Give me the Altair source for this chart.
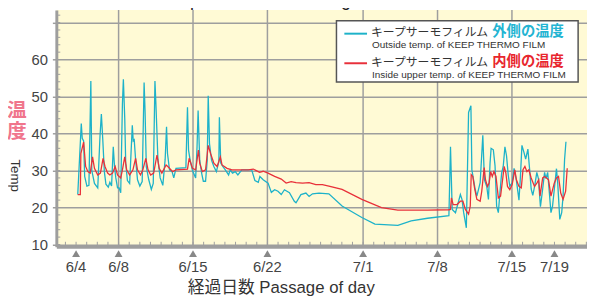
import altair as alt
import pandas as pd

# ---- data (day 0 = 6/4) ----
out_day = [0.16, 0.49, 0.58, 0.71, 0.81, 1.02, 1.21, 1.39, 1.48, 1.73, 2.04, 2.25, 2.38, 2.51, 2.66, 2.81,
           3.03, 3.18, 3.34, 3.50, 3.62, 3.74, 3.90, 4.05, 4.20, 4.36, 4.45, 4.58, 4.67, 4.83, 5.04, 5.29,
           5.38, 5.47, 5.60, 5.78, 6.00, 6.22, 6.40, 6.49, 6.61, 6.84, 7.08, 7.26, 7.42, 7.51, 7.70, 7.91,
           8.16, 8.38, 8.51, 8.60, 8.79, 9.03, 9.19, 9.40, 10.33, 10.48, 10.58, 10.73, 10.95, 11.25, 11.38,
           11.48, 11.63, 11.81, 11.97, 12.18, 12.34, 12.43, 12.55, 12.74, 12.96, 13.20, 13.43, 13.48, 13.61,
           13.80, 14.04, 14.35, 14.50, 14.72, 14.97, 15.22, 15.59, 16.05, 16.52, 16.82, 17.14, 17.29, 17.60,
           18.06, 18.37, 18.68, 18.99, 19.30, 19.60, 20.07, 20.53, 20.69, 21.15, 21.62, 21.92, 22.24, 22.85,
           23.78, 25.02, 26.88, 28.11, 30.27, 31.52, 33.06, 35.07, 35.22, 35.38, 35.69, 36.15, 36.30, 36.46,
           36.71, 36.92, 37.14, 37.23, 37.39, 37.55, 37.70, 38.01, 38.26, 38.41, 38.63, 38.79, 38.94, 39.04,
           39.25, 39.41, 39.56, 39.72, 39.87, 40.03, 40.18, 40.34, 40.49, 40.65, 40.80, 41.02, 41.20, 41.41,
           41.66, 41.79, 41.94, 42.13, 42.29, 42.50, 42.66, 42.81, 42.96, 43.15, 43.34, 43.49, 43.68, 43.89,
           44.07, 44.20, 44.36, 44.51, 44.67, 44.82, 45.07, 45.19, 45.31, 45.50, 45.68, 45.81, 45.95, 46.08]
out_temp = [23.5, 42.7, 38.7, 38.0, 28.4, 25.8, 26.0, 54.2, 30.0, 26.5, 25.3, 39.2, 45.3, 38.5, 29.7, 26.3,
            25.5, 26.8, 25.8, 36.4, 31.0, 28.0, 25.3, 25.3, 24.0, 48.0, 54.7, 44.0, 32.0, 27.3, 26.5, 42.2,
            38.0, 38.3, 33.0, 27.5, 25.8, 27.0, 53.8, 46.0, 31.0, 27.5, 24.9, 26.5, 54.2, 48.0, 33.0, 28.0,
            26.0, 33.0, 41.8, 34.6, 30.2, 29.7, 28.0, 30.6, 30.8, 47.1, 35.5, 32.8, 30.0, 28.0, 36.4,
            46.2, 32.8, 29.3, 27.1, 27.1, 32.8, 50.2, 37.3, 32.8, 31.1, 29.7, 32.4, 44.4, 32.0,
            31.1, 30.2, 28.8, 30.2, 29.3, 29.7, 28.8, 30.2, 30.2, 30.2, 27.3, 26.8, 28.4, 27.5,
            26.6, 24.1, 24.8, 24.4, 23.5, 24.8, 24.0, 21.7, 21.3, 23.5, 23.9, 23.0, 23.7, 23.9,
            23.7, 20.4, 17.3, 15.5, 15.2, 16.4, 17.1, 17.8, 36.4, 19.5, 18.6, 23.5, 22.2, 18.6,
            14.5, 45.7, 47.5, 30.2, 27.5, 24.8, 23.1, 26.7, 39.5, 27.5, 25.7, 22.2, 32.0, 36.0,
            35.6, 31.3, 20.4, 18.6, 24.0, 29.3, 31.1, 36.4, 34.0, 28.8, 25.7, 26.7, 30.6, 27.5,
            22.0, 28.0, 36.8, 34.9, 33.1, 35.8, 30.4, 25.0, 23.3, 26.0, 29.5, 27.8, 20.2, 25.0,
            29.5, 27.8, 29.5, 24.3, 18.6, 20.4, 27.3, 30.5, 26.4, 16.8, 18.6, 23.1, 32.9, 37.8]

in_day = [0.16, 0.40, 0.45, 0.71, 0.90, 1.11, 1.33, 1.55, 1.73, 2.04, 2.29, 2.54, 2.72, 2.97, 3.18, 3.43,
          3.68, 3.90, 4.20, 4.36, 4.58, 4.76, 5.04, 5.35, 5.60, 5.78, 6.06, 6.28, 6.56, 6.77, 7.02, 7.30,
          7.61, 7.82, 8.07, 8.47, 8.63, 9.09, 9.40, 10.48, 10.64, 10.95, 11.25, 11.51, 11.63, 11.88, 12.18,
          12.43, 12.65, 12.96, 13.27, 13.57, 13.73, 14.20, 14.66, 15.28, 16.21, 16.67, 17.14, 17.26, 17.60,
          18.06, 18.68, 19.30, 19.76, 20.23, 20.69, 21.31, 21.92, 22.55, 23.17, 23.78, 25.02, 26.88, 28.73,
          30.27, 33.06, 35.07, 35.22, 35.31, 35.47, 35.84, 36.15, 36.39, 36.62, 36.92, 37.08, 37.17, 37.32,
          37.48, 37.70, 38.01, 38.16, 38.39, 38.51, 38.70, 38.85, 39.00, 39.15, 39.31, 39.50, 39.72, 39.93,
          40.12, 40.27, 40.43, 40.58, 40.80, 41.02, 41.27, 41.42, 41.66, 41.88, 42.04, 42.22, 42.41, 42.59,
          42.81, 43.12, 43.34, 43.52, 43.64, 43.89, 44.07, 44.26, 44.44, 44.67, 44.98, 45.19, 45.38, 45.59,
          45.81, 46.05, 46.20]
in_temp = [23.5, 23.5, 34.6, 37.7, 31.1, 29.7, 29.3, 33.7, 30.6, 28.8, 29.3, 33.3, 31.1, 29.3, 28.8, 29.3,
           31.1, 28.8, 28.0, 30.2, 33.7, 30.2, 28.8, 30.2, 33.3, 30.2, 28.8, 30.2, 33.3, 30.2, 28.8, 29.3,
           34.2, 30.6, 29.3, 31.5, 31.1, 29.7, 30.2, 30.4, 33.3, 30.6, 30.2, 35.5, 32.0, 29.7, 30.2,
           36.8, 34.6, 32.0, 31.1, 33.7, 31.5, 30.6, 30.2, 30.2, 30.2, 30.4, 29.7, 29.5, 29.8,
           29.3, 28.4, 27.7, 26.6, 27.0, 26.7, 26.6, 26.7, 26.2, 26.2, 25.8, 24.9, 22.2, 20.0,
           19.3, 19.3, 19.4, 19.5, 22.6, 20.8, 20.8, 21.7, 21.7, 19.5, 18.2, 20.4, 28.9, 28.4,
           25.3, 22.2, 21.7, 24.4, 30.8, 27.5, 25.7, 26.6, 29.7, 28.4, 29.7, 28.4, 22.6, 23.1,
           27.5, 31.1, 29.3, 25.7, 24.8, 26.2, 30.2, 27.5, 25.7, 25.3, 30.2, 31.1, 29.7, 30.2,
           28.0, 25.7, 26.6, 27.5, 23.1, 28.0, 28.4, 28.0, 27.5, 23.1, 26.6, 28.0, 28.4, 23.9,
           22.2, 24.4, 30.6]

tick_days = [0, 4, 11, 18, 27, 34, 41, 45]
tick_labels = ["6/4", "6/8", "6/15", "6/22", "7/1", "7/8", "7/15", "7/19"]
grid_days = [4, 11, 18, 27, 34, 41]
minor_days = list(range(-1, 49))
y_ticks = [10, 20, 30, 40, 50, 60, 70]
y_minor = list(range(10, 74, 2))

FONT = "Liberation Sans, Noto Sans CJK JP"
CYAN = "#1DB2C9"
RED = "#E8303A"
GRID = "#9E9E9E"
W, H = 538, 240

xscale = alt.Scale(domain=[-1.856, 48.06], nice=False, zero=False)
yscale = alt.Scale(domain=[9.4, 73.4], nice=False, zero=False)
xaxis = alt.Axis(title=None, labels=False, ticks=False, grid=False, domain=True,
                 domainColor=GRID, domainWidth=3)
yaxis = alt.Axis(title=None, values=y_ticks, labelFontSize=15, labelColor="#444", labelFont=FONT,
                 labelExpr="datum.value >= 70 ? '' : datum.label",
                 labelPadding=5, tickSize=4, tickColor=GRID, tickWidth=1.5, domainColor=GRID,
                 domainWidth=3, grid=True, gridColor=GRID, gridWidth=1.5)


def X(f):
    return alt.X(f, type="quantitative", scale=xscale, axis=xaxis)


def Y(f):
    return alt.Y(f, type="quantitative", scale=yscale, axis=yaxis)


out_df = pd.DataFrame({"d": out_day, "v": out_temp})
in_df = pd.DataFrame({"d": in_day, "v": in_temp})
ticks_df = pd.DataFrame({"d": tick_days, "label": tick_labels})

outside = alt.Chart(out_df).mark_line(color=CYAN, strokeWidth=1.3).encode(x=X("d"), y=Y("v"))
inside = alt.Chart(in_df).mark_line(color=RED, strokeWidth=1.3).encode(x=X("d"), y=Y("v"))

vgrid = alt.Chart(pd.DataFrame({"d": grid_days})).mark_rule(color=GRID, strokeWidth=1.5).encode(x=X("d"))
xminor = alt.Chart(pd.DataFrame({"d": minor_days})).mark_rule(color=GRID, strokeWidth=1).encode(
    x=X("d"), y=alt.value(235), y2=alt.value(240))
yminor = alt.Chart(pd.DataFrame({"v": y_minor})).mark_rule(color=GRID, strokeWidth=1).encode(
    y=Y("v"), x=alt.value(0), x2=alt.value(4))

tri = alt.Chart(ticks_df).mark_point(shape="triangle-up", filled=True, size=64, color="#888888",
                                      opacity=1).encode(x=X("d"), y=alt.value(247))
tlabels = alt.Chart(ticks_df).mark_text(font=FONT, fontSize=15, color="#444", baseline="middle").encode(
    x=X("d"), y=alt.value(260.5), text="label:N")


def txt(s, x, y, size, color="#333", weight="normal", align="left", baseline="middle", angle=0):
    return alt.Chart(pd.DataFrame({"t": [s]})).mark_text(
        font=FONT, fontSize=size, color=color, fontWeight=weight, align=align,
        baseline=baseline, angle=angle).encode(text="t:N", x=alt.value(x), y=alt.value(y))


xtitle = txt("経過日数  Passage of day", 228, 282, 17, align="center")
yt1 = txt("温", -40, 102, 20, color="#F0758C", weight="bold", align="center")
yt2 = txt("度", -40, 124, 20, color="#F0758C", weight="bold", align="center")
yt3 = txt("Temp", -41.5, 168, 13.5, align="center", angle=90)
title = txt("Temp. Fluctuation during 6/4 - 7/19/2004", 263, -4, 18, color="#222", align="center",
            baseline="alphabetic")

lbox = alt.Chart(pd.DataFrame({"a": [0]})).mark_rect(fill="white", stroke="#555", strokeWidth=1.5).encode(
    x=alt.value(284), x2=alt.value(529), y=alt.value(11), y2=alt.value(73))
lline1 = alt.Chart(pd.DataFrame({"a": [0]})).mark_rule(color=CYAN, strokeWidth=2).encode(
    x=alt.value(292), x2=alt.value(315), y=alt.value(24))
lline2 = alt.Chart(pd.DataFrame({"a": [0]})).mark_rule(color=RED, strokeWidth=2).encode(
    x=alt.value(292), x2=alt.value(315), y=alt.value(54))
l1a = txt("キープサーモフィルム", 319, 22.5, 12, color="#333")
l1b = txt("外側の温度", 442, 22.5, 14.5, color="#23B4D2", weight="bold")
l1c = txt("Outside temp. of KEEP THERMO FILM", 320, 36, 10.1, color="#333")
l2a = txt("キープサーモフィルム", 319, 52.5, 12, color="#333")
l2b = txt("内側の温度", 442, 52.5, 14.5, color="#E8262E", weight="bold")
l2c = txt("Inside upper temp. of  KEEP THERMO FILM", 320, 65.5, 10.1, color="#333")

chart = alt.layer(
    vgrid, xminor, yminor, outside, inside, tri, tlabels, xtitle, yt1, yt2, yt3, title,
    lbox, lline1, lline2, l1a, l1b, l1c, l2a, l2b, l2c
).properties(
    width=W, height=H,
    padding={"left": 49, "top": 0, "right": 0, "bottom": 53},
    autosize=alt.AutoSizeParams(type="none"),
).configure_view(fill="#FFFAD5", stroke=None)

chart.save("out.html", embed_options={"renderer": "svg", "actions": False})
